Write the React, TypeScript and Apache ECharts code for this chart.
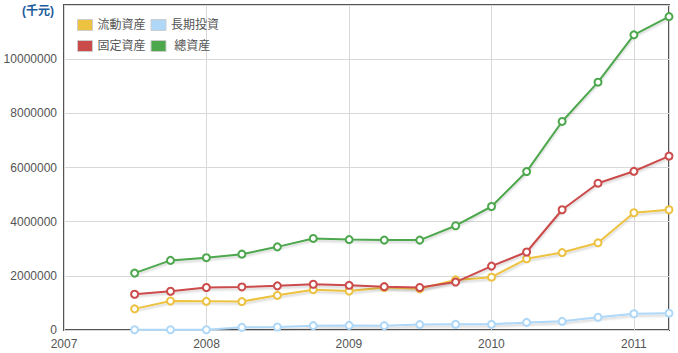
import React, { useEffect, useRef } from "react";
import * as echarts from "echarts";

const dates = [
  "2007-07-01", "2007-10-01", "2008-01-01", "2008-04-01",
  "2008-07-01", "2008-10-01", "2009-01-01", "2009-04-01",
  "2009-07-01", "2009-10-01", "2010-01-01", "2010-04-01",
  "2010-07-01", "2010-10-01", "2011-01-01", "2011-04-01",
];
const currentAssets = [780000, 1070000, 1060000, 1050000, 1280000, 1490000, 1440000, 1570000, 1520000, 1850000, 1950000, 2630000, 2860000, 3220000, 4330000, 4440000];
const longTermInvest = [10000, 10000, 10000, 100000, 110000, 160000, 170000, 160000, 200000, 210000, 210000, 280000, 320000, 470000, 600000, 620000];
const fixedAssets = [1320000, 1430000, 1570000, 1590000, 1630000, 1690000, 1650000, 1600000, 1570000, 1770000, 2360000, 2880000, 4440000, 5420000, 5860000, 6420000];
const totalAssets = [2100000, 2570000, 2670000, 2800000, 3070000, 3380000, 3340000, 3320000, 3320000, 3850000, 4560000, 5850000, 7700000, 9150000, 10900000, 11570000];

const seriesNames = ["流動資産", "長期投資", "固定資産", " 總資産"];
const seriesColors = ["#edc240", "#afd8f8", "#cb4b4b", "#4da74d"];
const seriesValues = [currentAssets, longTermInvest, fixedAssets, totalAssets];
const unitLabel = "(千元)";

const FONT = "Arial, 'Liberation Sans', 'Noto Sans CJK JP', sans-serif";
const YEAR_MS = 365.25 * 86400000;

export default function App() {
  const ref = useRef<HTMLDivElement>(null);
  useEffect(() => {
    if (!ref.current) return;
    const chart = echarts.init(ref.current, null, { renderer: "svg" });
    const ts = dates.map((d) => new Date(d + "T00:00:00Z").getTime());
    const legendItem = (i: number) => ({
      name: seriesNames[i],
      icon: "rect",
      itemStyle: { color: seriesColors[i], borderColor: "#cccccc", borderWidth: 1 },
    });
    chart.setOption({
      animation: false,
      textStyle: { fontFamily: FONT },
      grid: {
        left: 64, right: 9, top: 5, bottom: 23,
        show: true, borderColor: "#545454", borderWidth: 2, backgroundColor: "transparent",
      },
      graphic: [
        {
          type: "text", left: 22, top: 5,
          style: { text: unitLabel, font: `bold 12px ${FONT}`, fill: "#1c5c9c" },
        },
      ],
      legend: [
        {
          left: 72, top: 14, itemWidth: 15, itemHeight: 11, itemGap: 5,
          textStyle: { fontSize: 12, color: "#545454", fontFamily: FONT },
          data: [legendItem(0), legendItem(1)],
        },
        {
          left: 72, top: 35, itemWidth: 15, itemHeight: 11, itemGap: 5,
          textStyle: { fontSize: 12, color: "#545454", fontFamily: FONT },
          data: [legendItem(2), legendItem(3)],
        },
      ],
      xAxis: {
        type: "value",
        min: Date.UTC(2007, 0, 1),
        max: Date.UTC(2011, 3, 1),
        interval: YEAR_MS,
        axisLine: { show: false },
        axisTick: { show: false },
        splitLine: { show: true, lineStyle: { color: "#d8d8d8", width: 1 } },
        axisLabel: {
          color: "#545454", fontSize: 12, margin: 8, showMaxLabel: false,
          formatter: (v: number) => String(new Date(v + 86400000).getUTCFullYear()),
        },
      },
      yAxis: {
        type: "value",
        min: 0, max: 12000000, interval: 2000000,
        axisLine: { show: false },
        axisTick: { show: false },
        splitLine: { show: true, lineStyle: { color: "#d8d8d8", width: 1 } },
        axisLabel: {
          color: "#545454", fontSize: 12, margin: 7, showMaxLabel: false,
          formatter: (v: number) => String(v),
        },
      },
      series: seriesValues.map((vals, i) => ({
        name: seriesNames[i],
        type: "line",
        data: vals.map((v, j) => [ts[j], v]),
        symbol: "circle",
        symbolSize: 7,
        showSymbol: true,
        color: seriesColors[i],
        lineStyle: {
          color: seriesColors[i], width: 2,
          shadowColor: "rgba(0,0,0,0.18)", shadowBlur: 2, shadowOffsetY: 2,
        },
        itemStyle: { color: "#ffffff", borderColor: seriesColors[i], borderWidth: 2 },
        z: 2 + i,
      })),
    });
    return () => chart.dispose();
  }, []);
  return (
    <div
      ref={ref}
      style={{ position: "absolute", left: 0, top: 0, width: 678, height: 353 }}
    />
  );
}
